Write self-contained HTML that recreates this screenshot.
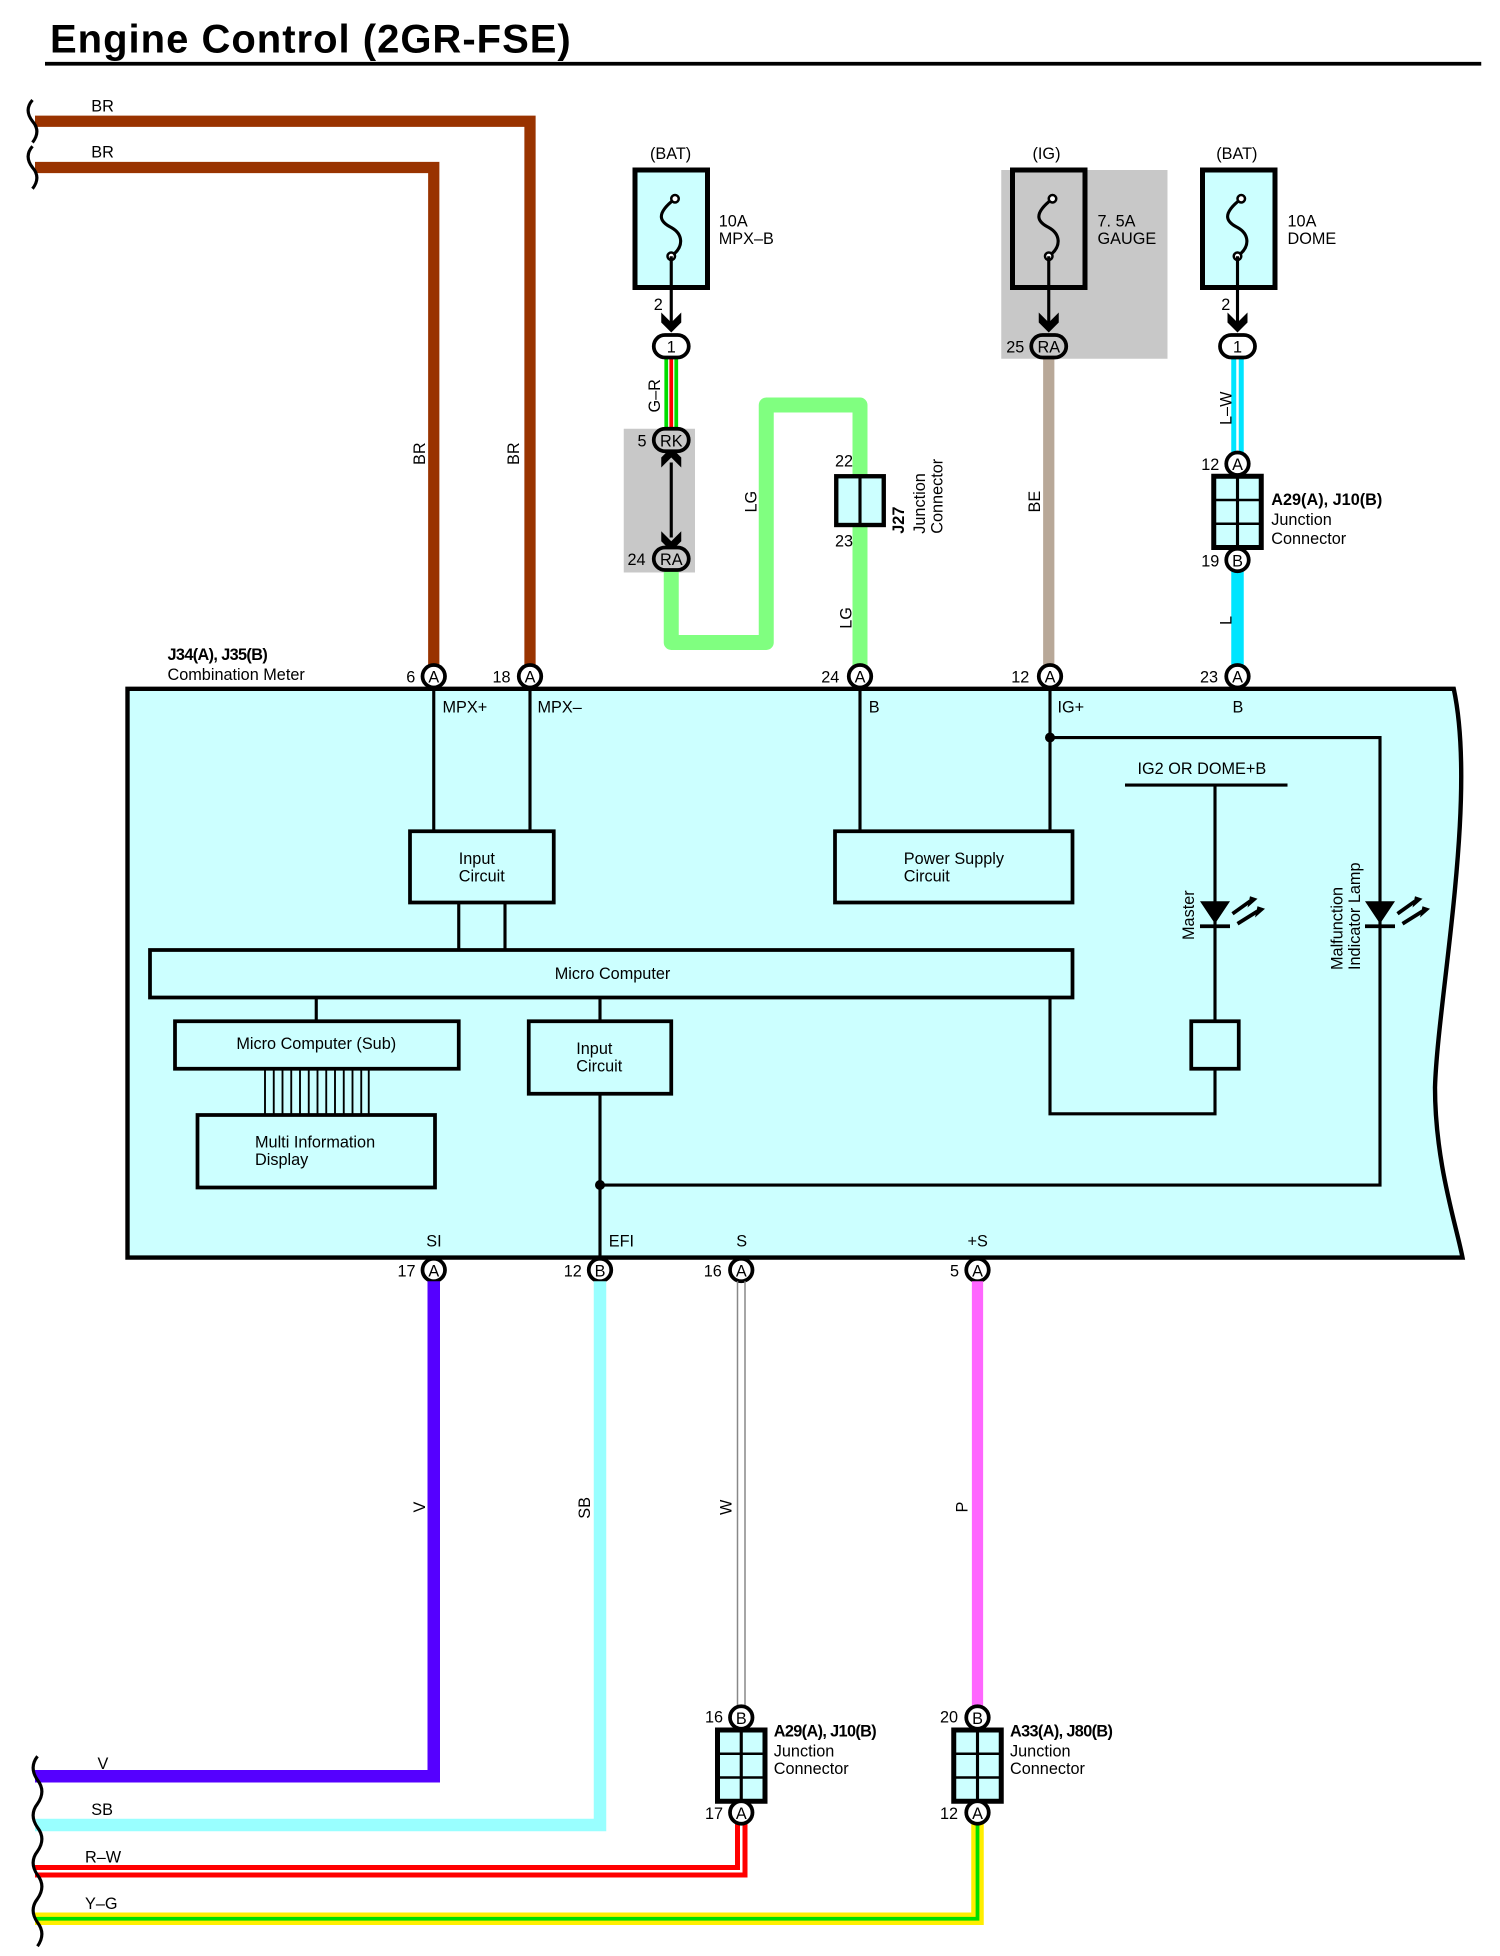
<!DOCTYPE html>
<html><head><meta charset="utf-8"><style>
html,body{margin:0;padding:0;background:#fff}
svg{display:block}
text{font-family:"Liberation Sans",Arial,sans-serif;font-size:13px;fill:#000}
</style></head><body>
<svg width="1500" height="1956" viewBox="0 0 1200 1564.8" xmlns="http://www.w3.org/2000/svg">
<defs>
<g id="chev"><polygon points="-8,-8 0,0 8,-8 8,0 0,8 -8,0" fill="#000"/></g>
<g id="fuse"><path d="M3,-23 C-14,-10 -8,-4 0,0 C9,5 11,15 0,23" fill="none" stroke="#000" stroke-width="2.5"/><circle cx="3" cy="-23" r="3" fill="#fff" stroke="#000" stroke-width="2"/><circle cx="0" cy="23" r="3" fill="#fff" stroke="#000" stroke-width="2"/></g>
<g id="jc"><rect x="-19" y="0" width="38" height="57" fill="#ccffff" stroke="#000" stroke-width="4"/><line x1="0" y1="0" x2="0" y2="57" stroke="#000" stroke-width="2.5"/><line x1="-19" y1="19" x2="19" y2="19" stroke="#000" stroke-width="2"/><line x1="-19" y1="38" x2="19" y2="38" stroke="#000" stroke-width="2"/></g>
<g id="led"><polygon points="-12,-10 12,-10 0,8" fill="#000"/><line x1="-12" y1="10" x2="12" y2="10" stroke="#000" stroke-width="3"/><path d="M14,0 L28,-10 M18,8 L34,-2" stroke="#000" stroke-width="3"/><polygon points="28,-14 34,-12 26,-5" fill="#000"/><polygon points="34,-6 40,-4 32,3" fill="#000"/></g>
</defs>

<text x="40" y="42" style="font-size:32px;font-weight:bold;letter-spacing:0.8px">Engine Control (2GR-FSE)</text>
<line x1="36" y1="51" x2="1185" y2="51" stroke="#000" stroke-width="3"/>

<!-- BR wires -->
<path d="M28,97 H424 V541" fill="none" stroke="#993300" stroke-width="9"/>
<path d="M28,134 H347 V541" fill="none" stroke="#993300" stroke-width="9"/>
<path d="M26,80 q-7,8 0,17 q7,8 0,17 M26,117 q-7,8 0,17 q7,8 0,17" fill="none" stroke="#000" stroke-width="2.5"/>
<text x="73" y="89">BR</text><text x="73" y="126">BR</text>
<text transform="translate(340,372) rotate(-90)">BR</text>
<text transform="translate(415,372) rotate(-90)">BR</text>

<!-- Fuse 1 -->
<text x="520" y="127">(BAT)</text>
<rect x="508" y="136" width="58" height="94" fill="#ccffff" stroke="#000" stroke-width="4"/>
<use href="#fuse" x="537" y="182"/>
<line x1="537" y1="205" x2="537" y2="262" stroke="#000" stroke-width="2.5"/>
<use href="#chev" x="537" y="258"/>
<text x="523" y="248">2</text>
<text x="575" y="181">10A</text><text x="575" y="195">MPX–B</text>
<line x1="537" y1="286" x2="537" y2="343" stroke="#00dd00" stroke-width="11"/>
<line x1="537" y1="286" x2="537" y2="343" stroke="#fff" stroke-width="5"/>
<line x1="537" y1="286" x2="537" y2="343" stroke="#ff0000" stroke-width="3"/>
<rect x="523" y="268" width="28" height="18" rx="9" fill="#fff" stroke="#000" stroke-width="3"/>
<text x="537" y="282" text-anchor="middle">1</text>
<text transform="translate(528,330) rotate(-90)">G–R</text>
<rect x="499" y="343" width="57" height="115" fill="#c8c8c8"/>
<path d="M537,456 V514 H613 V324 H688 V541" fill="none" stroke="#80ff80" stroke-width="12" stroke-linejoin="round"/>
<line x1="537" y1="370" x2="537" y2="430" stroke="#000" stroke-width="2.5"/>
<g transform="translate(537,366) rotate(180)"><use href="#chev"/></g>
<use href="#chev" x="537" y="433"/>
<rect x="523" y="343" width="28" height="18" rx="9" fill="#c8c8c8" stroke="#000" stroke-width="3"/>
<text x="537" y="357" text-anchor="middle">RK</text><text x="510" y="357">5</text>
<rect x="523" y="438" width="28" height="18" rx="9" fill="#c8c8c8" stroke="#000" stroke-width="3"/>
<text x="537" y="452" text-anchor="middle">RA</text><text x="502" y="452">24</text>
<text transform="translate(605,410) rotate(-90)">LG</text>
<text transform="translate(681,503) rotate(-90)">LG</text>
<rect x="669" y="381" width="38" height="39" fill="#ccffff" stroke="#000" stroke-width="3.5"/>
<line x1="688" y1="381" x2="688" y2="420" stroke="#000" stroke-width="2.5"/>
<text x="668" y="373">22</text><text x="668" y="437">23</text>
<text transform="translate(723,427) rotate(-90)" style="font-weight:bold">J27</text>
<text transform="translate(740,427) rotate(-90)">Junction</text>
<text transform="translate(754,427) rotate(-90)">Connector</text>

<!-- Fuse 2 -->
<rect x="801" y="136" width="133" height="151" fill="#c8c8c8"/>
<text x="826" y="127">(IG)</text>
<rect x="810" y="136" width="58" height="94" fill="#c8c8c8" stroke="#000" stroke-width="4"/>
<use href="#fuse" x="839" y="182"/>
<line x1="839" y1="205" x2="839" y2="262" stroke="#000" stroke-width="2.5"/>
<use href="#chev" x="839" y="258"/>
<text x="878" y="181">7. 5A</text><text x="878" y="195">GAUGE</text>
<line x1="839" y1="286" x2="839" y2="541" stroke="#b8a898" stroke-width="9"/>
<rect x="825" y="268" width="28" height="18" rx="9" fill="#c8c8c8" stroke="#000" stroke-width="3"/>
<text x="839" y="282" text-anchor="middle">RA</text><text x="805" y="282">25</text>
<text transform="translate(832,410) rotate(-90)">BE</text>

<!-- Fuse 3 -->
<text x="973" y="127">(BAT)</text>
<rect x="962" y="136" width="58" height="94" fill="#ccffff" stroke="#000" stroke-width="4"/>
<use href="#fuse" x="990" y="182"/>
<line x1="990" y1="205" x2="990" y2="262" stroke="#000" stroke-width="2.5"/>
<use href="#chev" x="990" y="258"/>
<text x="977" y="248">2</text>
<text x="1030" y="181">10A</text><text x="1030" y="195">DOME</text>
<line x1="990" y1="286" x2="990" y2="362" stroke="#00e5ff" stroke-width="10"/>
<line x1="990" y1="286" x2="990" y2="362" stroke="#fff" stroke-width="2"/>
<line x1="990" y1="455" x2="990" y2="533" stroke="#00e5ff" stroke-width="10"/>
<rect x="976" y="268" width="28" height="18" rx="9" fill="#fff" stroke="#000" stroke-width="3"/>
<text x="990" y="282" text-anchor="middle">1</text>
<text transform="translate(985,340) rotate(-90)">L–W</text>
<text transform="translate(985,500) rotate(-90)">L</text>
<use href="#jc" x="990" y="381"/>
<circle cx="990" cy="371" r="9" fill="#fff" stroke="#000" stroke-width="3"/><text x="990" y="376" text-anchor="middle">A</text>
<circle cx="990" cy="448" r="9" fill="#fff" stroke="#000" stroke-width="3"/><text x="990" y="453" text-anchor="middle">B</text>
<text x="961" y="376">12</text><text x="961" y="453">19</text>
<text x="1017" y="404" style="font-weight:bold">A29(A), J10(B)</text>
<text x="1017" y="420">Junction</text><text x="1017" y="435">Connector</text>

<!-- Meter box -->
<path d="M102,551 H1163 C1182,640 1150,800 1148,870 C1148,930 1165,980 1170,1006 H102 Z" fill="#ccffff" stroke="#000" stroke-width="3.5"/>
<text x="134" y="528" style="font-weight:bold;letter-spacing:-0.5px">J34(A), J35(B)</text>
<text x="134" y="544">Combination Meter</text>

<g fill="#fff" stroke="#000" stroke-width="3">
<circle cx="347" cy="541" r="9"/><circle cx="424" cy="541" r="9"/><circle cx="688" cy="541" r="9"/><circle cx="840" cy="541" r="9"/><circle cx="990" cy="541" r="9"/>
<circle cx="347" cy="1016" r="9"/><circle cx="480" cy="1016" r="9"/><circle cx="593" cy="1016" r="9"/><circle cx="782" cy="1016" r="9"/>
</g>
<g text-anchor="middle">
<text x="347" y="546">A</text><text x="424" y="546">A</text><text x="688" y="546">A</text><text x="840" y="546">A</text><text x="990" y="546">A</text>
<text x="347" y="1021">A</text><text x="480" y="1021">B</text><text x="593" y="1021">A</text><text x="782" y="1021">A</text>
</g>
<text x="325" y="546">6</text><text x="394" y="546">18</text><text x="657" y="546">24</text><text x="809" y="546">12</text><text x="960" y="546">23</text>
<text x="318" y="1021">17</text><text x="451" y="1021">12</text><text x="563" y="1021">16</text><text x="760" y="1021">5</text>

<text x="354" y="570">MPX+</text><text x="430" y="570">MPX–</text><text x="695" y="570">B</text><text x="846" y="570">IG+</text><text x="986" y="570">B</text>
<text x="341" y="997">SI</text><text x="487" y="997">EFI</text><text x="589" y="997">S</text><text x="774" y="997">+S</text>

<g stroke="#000" stroke-width="2.5" fill="none">
<line x1="347" y1="551" x2="347" y2="665"/><line x1="424" y1="551" x2="424" y2="665"/>
<line x1="367" y1="722" x2="367" y2="760"/><line x1="404" y1="722" x2="404" y2="760"/>
<line x1="688" y1="551" x2="688" y2="665"/><line x1="840" y1="551" x2="840" y2="665"/>
<path d="M840,590 H1104 V948 H480"/>
<line x1="900" y1="628" x2="1030" y2="628"/>
<line x1="972" y1="628" x2="972" y2="817"/>
<path d="M972,855 V891 H840 V798"/>
<line x1="253" y1="798" x2="253" y2="817"/>
<line x1="480" y1="798" x2="480" y2="817"/>
<line x1="480" y1="875" x2="480" y2="1006"/>
</g>
<g stroke="#000" stroke-width="3" fill="#ccffff">
<rect x="328" y="665" width="115" height="57"/>
<rect x="668" y="665" width="190" height="57"/>
<rect x="120" y="760" width="738" height="38"/>
<rect x="140" y="817" width="227" height="38"/>
<rect x="423" y="817" width="114" height="58"/>
<rect x="158" y="892" width="190" height="58"/>
<rect x="953" y="817" width="38" height="38"/>
</g>
<g stroke="#000" stroke-width="1.5">
<line x1="212" y1="855" x2="212" y2="892"/><line x1="219" y1="855" x2="219" y2="892"/><line x1="226" y1="855" x2="226" y2="892"/><line x1="233" y1="855" x2="233" y2="892"/><line x1="240" y1="855" x2="240" y2="892"/><line x1="247" y1="855" x2="247" y2="892"/><line x1="254" y1="855" x2="254" y2="892"/><line x1="261" y1="855" x2="261" y2="892"/><line x1="268" y1="855" x2="268" y2="892"/><line x1="275" y1="855" x2="275" y2="892"/><line x1="282" y1="855" x2="282" y2="892"/><line x1="289" y1="855" x2="289" y2="892"/><line x1="295" y1="855" x2="295" y2="892"/>
</g>
<circle cx="840" cy="590" r="4" fill="#000"/><circle cx="480" cy="948" r="4" fill="#000"/>
<text x="367" y="691">Input</text><text x="367" y="705">Circuit</text>
<text x="723" y="691">Power Supply</text><text x="723" y="705">Circuit</text>
<text x="490" y="783" text-anchor="middle">Micro Computer</text>
<text x="253" y="839" text-anchor="middle">Micro Computer (Sub)</text>
<text x="461" y="843">Input</text><text x="461" y="857">Circuit</text>
<text x="204" y="918">Multi Information</text><text x="204" y="932">Display</text>
<text x="910" y="619">IG2 OR DOME+B</text>
<use href="#led" x="972" y="731"/>
<use href="#led" x="1104" y="731"/>
<text transform="translate(955,752) rotate(-90)">Master</text>
<text transform="translate(1074,776) rotate(-90)">Malfunction</text>
<text transform="translate(1088,776) rotate(-90)">Indicator Lamp</text>

<!-- bottom wires -->
<path d="M347,1025 V1421 H28" fill="none" stroke="#5500ff" stroke-width="10"/>
<path d="M480,1025 V1460 H28" fill="none" stroke="#99ffff" stroke-width="10"/>
<line x1="590" y1="1025" x2="590" y2="1365" stroke="#888" stroke-width="1.2"/>
<line x1="596" y1="1025" x2="596" y2="1365" stroke="#888" stroke-width="1.2"/>
<path d="M782,1025 V1365" fill="none" stroke="#ff66ff" stroke-width="9"/>
<path d="M593,1459 V1497 H28" fill="none" stroke="#ff0000" stroke-width="10"/>
<path d="M593,1459 V1497 H28" fill="none" stroke="#fff" stroke-width="2"/>
<path d="M782,1459 V1535 H28" fill="none" stroke="#ffee00" stroke-width="10"/>
<path d="M782,1459 V1535 H28" fill="none" stroke="#00dd00" stroke-width="3"/>
<path d="M30,1405 q-7,9 0,19 q7,9 0,19 q-7,9 0,19 q7,9 0,19 q-7,9 0,19 q7,9 0,19 q-7,9 0,19 q7,9 0,19" fill="none" stroke="#000" stroke-width="2.5"/>
<text x="78" y="1415">V</text><text x="73" y="1452">SB</text><text x="68" y="1490">R–W</text><text x="68" y="1527">Y–G</text>
<text transform="translate(340,1210) rotate(-90)">V</text>
<text transform="translate(472,1215) rotate(-90)">SB</text>
<text transform="translate(585,1212) rotate(-90)">W</text>
<text transform="translate(774,1210) rotate(-90)">P</text>

<use href="#jc" x="593" y="1384"/>
<circle cx="593" cy="1374" r="9" fill="#fff" stroke="#000" stroke-width="3"/><text x="593" y="1379" text-anchor="middle">B</text>
<circle cx="593" cy="1450" r="9" fill="#fff" stroke="#000" stroke-width="3"/><text x="593" y="1455" text-anchor="middle">A</text>
<text x="564" y="1378">16</text><text x="564" y="1455">17</text>
<text x="619" y="1389" style="font-weight:bold;letter-spacing:-0.5px">A29(A), J10(B)</text>
<text x="619" y="1405">Junction</text><text x="619" y="1419">Connector</text>

<use href="#jc" x="782" y="1384"/>
<circle cx="782" cy="1374" r="9" fill="#fff" stroke="#000" stroke-width="3"/><text x="782" y="1379" text-anchor="middle">B</text>
<circle cx="782" cy="1450" r="9" fill="#fff" stroke="#000" stroke-width="3"/><text x="782" y="1455" text-anchor="middle">A</text>
<text x="752" y="1378">20</text><text x="752" y="1455">12</text>
<text x="808" y="1389" style="font-weight:bold;letter-spacing:-0.5px">A33(A), J80(B)</text>
<text x="808" y="1405">Junction</text><text x="808" y="1419">Connector</text>
</svg>
</body></html>
